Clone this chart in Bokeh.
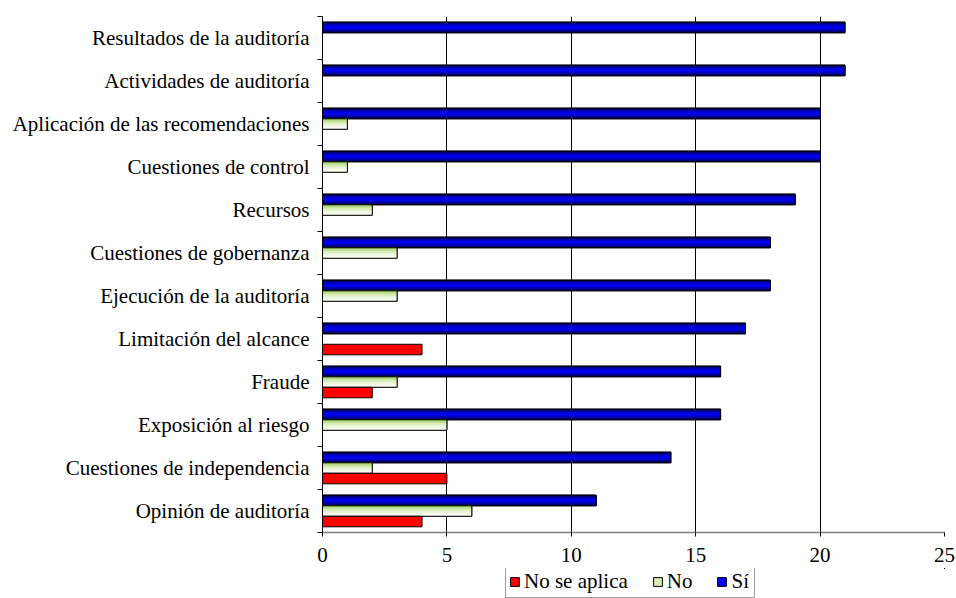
from bokeh.plotting import figure
from bokeh.layouts import column
from bokeh.models import (ColumnDataSource, FixedTicker, Legend, LegendItem, Grid,
                          Range1d)
from bokeh.transform import dodge
from bokeh.embed import file_html
from bokeh.resources import INLINE

# ---- data (bottom to top) ----
categories = ["Opinión de auditoría", "Cuestiones de independencia", "Exposición al riesgo",
              "Fraude", "Limitación del alcance", "Ejecución de la auditoría",
              "Cuestiones de gobernanza", "Recursos", "Cuestiones de control",
              "Aplicación de las recomendaciones", "Actividades de auditoría",
              "Resultados de la auditoría"]
si = [11, 14, 16, 16, 17, 18, 18, 19, 20, 20, 21, 21]
no = [6, 2, 5, 3, 0, 3, 3, 2, 1, 1, 0, 0]
no_aplica = [4, 5, 0, 2, 4, 0, 0, 0, 0, 0, 0, 0]
x_ticks = [0, 5, 10, 15, 20, 25]
series_names = ["No se aplica", "No", "Sí"]

FONT = "Liberation Serif"
FS = "21px"
H = 0.245  # bar thickness in category units

BLUE_STRIPES = ["#000068", "#0000a8", "#0000e6", "#0000f0", "#0000b0", "#000070"]
GREEN_STRIPES = ["#9ccb66", "#bedf92", "#d8ecb9", "#e8f4d6", "#f2f9e7", "#fafdf4"]
BLUE, GREEN, RED = "#0000ee", "#d8ecb9", "#ff0000"

centers = [i + 0.5 for i in range(len(categories))]
boundaries = list(range(len(categories) + 1))


def make_source(vals):
    ys = [c for c, v in zip(centers, vals) if v > 0]
    xs = [v for v in vals if v > 0]
    return ColumnDataSource(dict(y=ys, x=xs))


src_si, src_no, src_na = make_source(si), make_source(no), make_source(no_aplica)

p = figure(width=956, height=568, output_backend="svg", toolbar_location=None,
           x_range=Range1d(0, 25), y_range=Range1d(0, len(categories)),
           min_border_left=322, min_border_right=12, min_border_top=16,
           min_border_bottom=36, outline_line_color=None,
           background_fill_color="white", border_fill_color="white")


def striped_bars(src, offset, colors, base_color):
    p.hbar(y=dodge("y", offset), right="x", left=0, height=H, source=src,
           fill_color=base_color, line_color="black", line_width=1)
    n = len(colors)
    for k, c in enumerate(colors):
        off = offset + H / 2 - (k + 0.5) * H / n
        p.hbar(y=dodge("y", off), right="x", left=0, height=H / n, source=src,
               fill_color=c, line_color=c, line_width=0.5)
    p.hbar(y=dodge("y", offset), right="x", left=0, height=H, source=src,
           fill_color=None, line_color="black", line_width=1)


striped_bars(src_si, H, BLUE_STRIPES, BLUE)
striped_bars(src_no, 0.0, GREEN_STRIPES, GREEN)
p.hbar(y=dodge("y", -H), right="x", left=0, height=H, source=src_na,
       fill_color=RED, line_color="black", line_width=1)

# grid
p.ygrid.visible = False
p.xgrid.ticker = FixedTicker(ticks=x_ticks[1:-1])
p.xgrid.grid_line_color = "black"
p.xgrid.grid_line_width = 1
edge_grid = Grid(dimension=0, ticker=FixedTicker(ticks=x_ticks[-1:]),
                 grid_line_color="#808080", grid_line_width=1.5)
p.add_layout(edge_grid)

# x axis
p.xaxis.ticker = FixedTicker(ticks=x_ticks)
p.xaxis.axis_line_color = "#808080"
p.xaxis.axis_line_width = 1.5
p.xaxis.major_tick_line_color = "black"
p.xaxis.major_tick_out = 4
p.xaxis.major_tick_in = 0
p.xaxis.minor_tick_line_color = None
p.xaxis.major_label_standoff = 11
p.xaxis.major_label_text_font = FONT
p.xaxis.major_label_text_font_size = FS
p.xaxis.major_label_text_color = "black"

# y axis: labels at centres, ticks at category boundaries
p.yaxis.ticker = FixedTicker(ticks=centers, minor_ticks=boundaries)
p.yaxis.major_label_overrides = {c: lab for c, lab in zip(centers, categories)}
p.yaxis.major_tick_line_color = None
p.yaxis.major_tick_out = 0
p.yaxis.major_tick_in = 0
p.yaxis.minor_tick_out = 5
p.yaxis.minor_tick_in = 0
p.yaxis.minor_tick_line_color = "black"
p.yaxis.axis_line_color = "black"
p.yaxis.major_label_standoff = 8
p.yaxis.major_label_text_font = FONT
p.yaxis.major_label_text_font_size = FS
p.yaxis.major_label_text_color = "black"

# ---- legend strip (separate small figure below the chart) ----
# the swatch renderers reuse the series sources; the strip's ranges keep them off-view
lg = figure(width=956, height=30, output_backend="svg", toolbar_location=None,
            x_axis_type=None, y_axis_type=None, min_border=0,
            outline_line_color=None, x_range=Range1d(-2, -1), y_range=Range1d(-2, -1),
            background_fill_color="white", border_fill_color="white")
lg.grid.visible = False
l_na = lg.hbar(y="y", right="x", left=0, height=H, source=src_na,
               fill_color=RED, line_color="black", line_width=1)
l_no = lg.hbar(y="y", right="x", left=0, height=H, source=src_no,
               fill_color=GREEN, line_color="black", line_width=1)
l_si = lg.hbar(y="y", right="x", left=0, height=H, source=src_si,
               fill_color=BLUE, line_color="black", line_width=1)

legend = Legend(items=[LegendItem(label=series_names[0], renderers=[l_na]),
                       LegendItem(label=series_names[1], renderers=[l_no]),
                       LegendItem(label=series_names[2], renderers=[l_si])],
                orientation="horizontal", location=(183, 0),
                label_text_font=FONT, label_text_font_size=FS,
                label_text_color="black", label_height=20,
                glyph_width=11, glyph_height=11, label_standoff=4, spacing=24,
                padding=3, margin=0, border_line_color="#404040",
                border_line_width=1, background_fill_color="white",
                background_fill_alpha=1)
lg.add_layout(legend)

layout = column(p, lg, spacing=0)
open("out.html", "w").write(file_html(layout, INLINE))
